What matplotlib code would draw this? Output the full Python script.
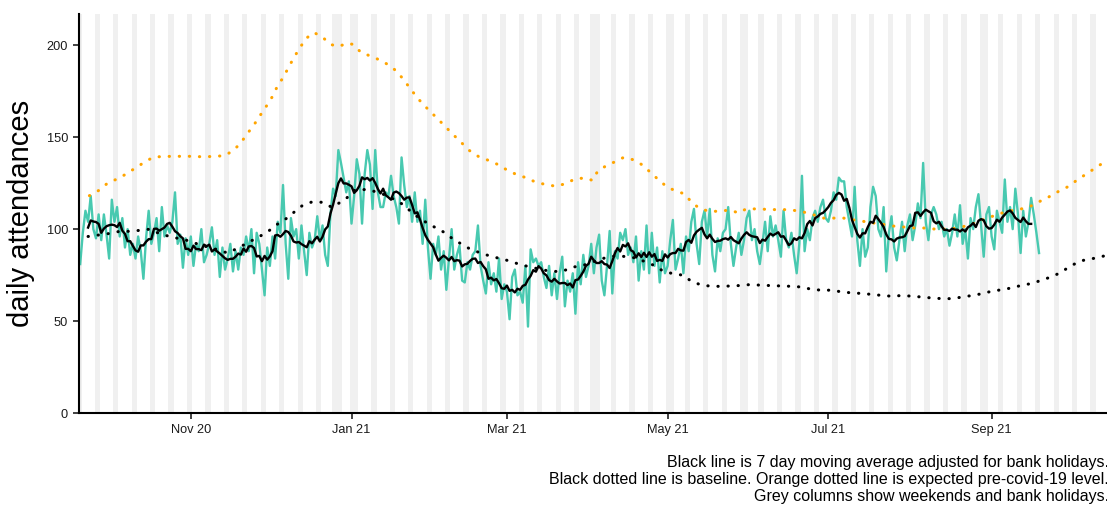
import numpy as np
import pandas as pd
import matplotlib
matplotlib.use("Agg")
import matplotlib.pyplot as plt
import matplotlib.dates as mdates

plt.rcParams['font.family'] = ['Liberation Sans', 'DejaVu Sans']

# first day of the daily series (a Sunday)
start = pd.Timestamp("2020-09-20")

# daily attendances, one row per week (Sun..Sat)
attendances = [
    81, 98, 110, 104, 118, 100, 95,
    108, 94, 108, 97, 84, 116, 104,
    112, 96, 106, 90, 100, 86, 92,
    84, 96, 88, 73, 95, 110, 92,
    98, 106, 88, 112, 96, 102, 98,
    104, 120, 92, 97, 79, 95, 86,
    96, 80, 92, 88, 100, 82, 86,
    92, 101, 86, 94, 74, 90, 78,
    84, 92, 77, 88, 78, 90, 86,
    96, 88, 100, 76, 98, 92, 78,
    64, 90, 80, 96, 84, 104, 98,
    124, 92, 73, 106, 96, 100, 84,
    102, 88, 75, 98, 90, 94, 107,
    94, 102, 86, 80, 108, 122, 118,
    143, 136, 128, 120, 126, 103, 118,
    138, 130, 103, 130, 143, 135, 111,
    143, 120, 112, 112, 120, 118, 129,
    118, 112, 103, 139, 124, 112, 118,
    104, 120, 104, 110, 92, 116, 90,
    73, 92, 86, 96, 78, 88, 67,
    84, 100, 78, 86, 91, 72, 71,
    82, 78, 86, 88, 102, 80, 72,
    65, 82, 70, 76, 66, 84, 62,
    70, 66, 51, 74, 78, 64, 66,
    60, 80, 47, 89, 82, 84, 80,
    82, 74, 68, 80, 64, 76, 62,
    76, 85, 58, 72, 66, 76, 54,
    82, 70, 86, 74, 80, 92, 76,
    90, 97, 72, 64, 80, 99, 65,
    88, 84, 98, 94, 100, 86, 90,
    82, 96, 72, 88, 78, 102, 76,
    98, 80, 90, 71, 88, 76, 80,
    94, 105, 78, 84, 92, 76, 96,
    88, 104, 111, 92, 81, 104, 110,
    96, 111, 86, 77, 95, 88, 98,
    100, 112, 92, 80, 90, 98, 86,
    94, 106, 110, 94, 100, 88, 81,
    92, 104, 88, 107, 96, 102, 94,
    85, 110, 94, 90, 98, 86, 76,
    92, 129, 88, 100, 94, 106, 110,
    104, 112, 116, 106, 104, 110, 120,
    116, 128, 126, 126, 112, 104, 96,
    123, 94, 80, 100, 85, 90, 112,
    123, 118, 100, 96, 112, 77, 98,
    107, 90, 83, 94, 104, 88, 102,
    108, 94, 102, 114, 106, 136, 104,
    94, 108, 112, 108, 100, 104, 96,
    100, 91, 98, 108, 96, 113, 92,
    100, 84, 106, 100, 112, 119, 102,
    85, 108, 112, 96, 89, 110, 104,
    98, 127, 104, 112, 100, 122, 108,
    87, 110, 96, 104, 117, 108, 98,
    87,
]

# baseline (black dotted), day offset from start -> value
baseline_day = [3, 11, 15, 19, 23, 26.5, 30, 34, 38, 42, 45, 52, 56, 60, 67, 71,
                74, 78, 81, 84.5, 88, 92, 95.5, 100.5, 104.5, 109.5, 115, 121,
                124, 127, 130, 134, 138, 141, 145, 148, 152, 156, 160, 163.5,
                167, 171, 175, 179, 183, 187, 190, 197, 200.5, 204, 211, 218,
                221.5, 225, 229, 232, 236, 240, 244, 250, 254, 262, 270, 273,
                277, 281, 285, 289, 293, 297, 301, 304, 308, 312, 316, 320,
                323, 327, 331, 335, 339, 342, 346, 350, 353.5, 357, 361, 365,
                368.5, 372, 376, 380, 387, 390]
baseline_val = [96, 97.6, 98.8, 98.8, 99.4, 100, 97.6, 96, 94.7, 93.4, 91.6,
                88.9, 87, 89.8, 95.2, 98.3, 101.9, 105.5, 109, 113, 114.8,
                114.6, 111.9, 116, 121.5, 121.5, 119, 115, 111.5, 107.8, 104.8,
                101.5, 98.4, 95.2, 91.6, 89.2, 87, 85.2, 83.8, 82.5, 80.7, 79.4,
                78, 77, 77, 79.4, 79.8, 83.4, 84.9, 85.6, 84.3, 80.2, 77, 75.8,
                74.9, 71.6, 69.5, 68.9, 68.9, 69.3, 69.8, 69.3, 68.9, 68.6, 67.5,
                66.8, 66.8, 65.9, 65.3, 65, 64.4, 64, 63.5, 63.9, 63.5, 63, 62.6,
                62.2, 62.2, 63.1, 64, 64.8, 66.2, 67.1, 68, 69.3, 70.4, 72.2, 74,
                76.2, 80, 82.8, 84.7, 86]

# expected pre-covid level (orange dotted)
expected_day = [3.5, 7, 10.4, 13.9, 17.5, 20.9, 24.3, 27.8, 31.7, 35.4, 39.2,
                43, 46.8, 50.9, 54.7, 58, 60.8, 63.5, 66.1, 68.3, 70.6, 72.8,
                74.7, 77, 79.1, 81, 83.3, 85.8, 88.8, 92.1, 94.9, 98.1, 101.3,
                103.5, 106.7, 110.1, 113.7, 117.1, 120.3, 122.8, 125.5, 128.1,
                131, 133.8, 136.4, 139.2, 142.1, 144.9, 147.7, 151.2, 155,
                158.8, 162.3, 165.8, 169.6, 173.1, 177, 180.6, 184.2, 188,
                191.8, 194.5, 196.4, 199.7, 202.8, 206.3, 210.1, 213.9, 216.7,
                220, 222.8, 225.9, 229.3, 231.6, 234.8, 238.6, 242.5, 246.5,
                250, 252.8, 256, 260, 264, 268, 271, 274.6, 278.4, 282.2, 286,
                289.8, 293.6, 297.4, 301.2, 305.7, 309.5, 313.2, 317, 320.8,
                324.6, 329, 332.9, 336.7, 340.5, 344.3, 348, 351.9, 356.3,
                360.7, 364.3, 367.7, 371.5, 375.3, 378.7, 382.2, 385.4, 388.6,
                390]
expected_val = [118.2, 121, 125, 127.2, 130, 133.2, 136.3, 139.2, 139.5, 139.6,
                139.6, 139.6, 139.3, 139.6, 139.9, 142.6, 146.6, 152, 157,
                161.8, 166.7, 171.7, 177.2, 182.4, 187.9, 193, 198.4, 203.8,
                206.9, 204.3, 200.5, 199.3, 201.1, 200.5, 196, 194.2, 192,
                189.3, 185.7, 181.2, 176.1, 171.2, 166.7, 162.7, 159, 154.9,
                150.7, 146.8, 142.8, 139.5, 137.4, 135, 131.9, 129.6, 127.8,
                125.4, 124.2, 123.3, 124.7, 127.4, 127.8, 126.5, 131.4, 134.5,
                136.5, 139, 137.7, 134.5, 130.5, 126.3, 122.9, 120.9, 119.2,
                115.5, 111.5, 109.7, 109.7, 110.4, 108.8, 111, 111, 110.8,
                110.6, 110.6, 110.2, 109.3, 107.8, 106, 106, 106, 105, 104.2,
                103.3, 102.4, 101.5, 101.1, 100.6, 100.6, 100, 100, 100.6,
                101.9, 103.8, 106, 107.8, 109.7, 110.6, 112.4, 115.1, 117.5,
                120.6, 123.3, 127, 130.2, 133.3, 136.3, 137.5]

bank_holidays = ["2020-12-25", "2020-12-28", "2021-01-01", "2021-04-02",
                 "2021-04-05", "2021-05-03", "2021-05-31", "2021-08-30"]

tick_dates = ["2020-11-01", "2021-01-01", "2021-03-01", "2021-05-01",
              "2021-07-01", "2021-09-01"]
tick_labels = ["Nov 20", "Jan 21", "Mar 21", "May 21", "Jul 21", "Sep 21"]
y_ticks = [0, 50, 100, 150, 200]

caption = [
    "Black line is 7 day moving average adjusted for bank holidays.",
    "Black dotted line is baseline. Orange dotted line is expected pre-covid-19 level.",
    "Grey columns show weekends and bank holidays.",
]


def day_to_num(days):
    return mdates.date2num(start) + np.asarray(days, dtype=float)


x_daily = mdates.date2num(pd.date_range(start, periods=len(attendances), freq="D"))
moving_avg = pd.Series(attendances).rolling(7, center=True).mean()

fig = plt.figure(figsize=(11.07, 5.05), dpi=100)
ax = fig.add_axes([79 / 1107, 92 / 505, 1028 / 1107, 399 / 505])

x_left = day_to_num(-0.45)
x_right = day_to_num(389.8)

# grey columns for weekends and bank holidays
hol = set(pd.to_datetime(bank_holidays))
for d in pd.date_range(start - pd.Timedelta(days=2), periods=396, freq="D"):
    if d.dayofweek >= 5 or d in hol:
        c = mdates.date2num(d)
        ax.axvspan(c - 0.5, c + 0.5, color="#f0f0f0", lw=0, zorder=0)

ax.plot(x_daily, attendances, color="#48C9B0", lw=1.7, zorder=2)
ax.plot(day_to_num(baseline_day), baseline_val, color="black", lw=2.2,
        linestyle=(0, (0.1, 3.2)), dash_capstyle="round", zorder=3)
ax.plot(day_to_num(expected_day), expected_val, color="#FFA500", lw=2.2,
        linestyle=(0, (0.1, 3.2)), dash_capstyle="round", zorder=3)
ax.plot(x_daily, moving_avg, color="black", lw=1.7, zorder=4)

ax.set_xlim(x_left, x_right)
ax.set_ylim(0, 217)
ax.set_xticks(mdates.date2num(pd.to_datetime(tick_dates)))
ax.set_xticklabels(tick_labels)
ax.set_yticks(y_ticks)

for s in ["top", "right"]:
    ax.spines[s].set_visible(False)
for s in ["left", "bottom"]:
    ax.spines[s].set_linewidth(1.5)
    ax.spines[s].set_color("black")

ax.tick_params(length=4, width=1.3, color="#333333", labelsize=9.2,
               labelcolor="#1a1a1a", pad=4)
ax.set_ylabel("daily attendances", fontsize=21, labelpad=8)

for i, line in enumerate(caption):
    fig.text(1.002, (43 - 17.5 * i) / 505, line, ha="right", va="center",
             fontsize=11.5, color="black")

fig.savefig("out.png", dpi=100)
